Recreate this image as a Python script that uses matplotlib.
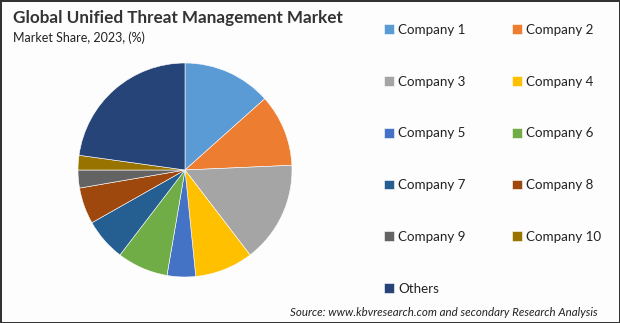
import numpy as np
import matplotlib.pyplot as plt

plt.rcParams['font.family'] = ['Lato', 'DejaVu Sans']

labels = ["Company 1", "Company 2", "Company 3", "Company 4", "Company 5",
          "Company 6", "Company 7", "Company 8", "Company 9", "Company 10", "Others"]
shares = [13.4, 10.9, 15.3, 8.8, 4.3, 7.7, 6.4, 5.5, 2.7, 2.2, 22.8]
colors = ["#5B9BD5", "#ED7D31", "#A5A5A5", "#FFC000", "#4472C4", "#70AD47",
          "#255E91", "#9E480E", "#636363", "#997300", "#264478"]

fig = plt.figure(figsize=(6.2, 3.23), dpi=100)
fig.patch.set_facecolor("#fdfdfd")
fig.patch.set_edgecolor("#333333")
fig.patch.set_linewidth(2)

ax = fig.add_axes([78/620, 46/323, 214/620, 214/323])
wedges, _ = ax.pie(shares, colors=colors, startangle=90, counterclock=False,
                   radius=1, wedgeprops=dict(linewidth=0.4, edgecolor="white"))
ax.set_xlim(-1, 1)
ax.set_ylim(-1, 1)
ax.set_aspect("equal")

fig.text(13/620, 1 - 18/323, "Global Unified Threat Management Market",
         fontsize=12.3, fontweight="bold", color="#333333", va="center", ha="left")
fig.text(13/620, 1 - 38/323, "Market Share, 2023, (%)",
         fontsize=9, color="#222222", va="center", ha="left")
fig.text(598/620, 1 - 312/323,
         "Source: www.kbvresearch.com and secondary Research Analysis",
         fontsize=8.3, style="italic", color="#222222", va="center", ha="right")

order = [0, 2, 4, 6, 8, 10, 1, 3, 5, 7, 9]
leg = fig.legend([wedges[i] for i in order], [labels[i] for i in order],
                 ncol=2, loc="upper left", bbox_to_anchor=(372/620, 1 - 12/323),
                 frameon=False, fontsize=9.6, handlelength=0.75, handleheight=0.75,
                 handletextpad=0.3, labelspacing=2.98, columnspacing=3.45)
for t in leg.get_texts():
    t.set_color("#222222")

fig.savefig("out.png", dpi=100, facecolor=fig.get_facecolor(), edgecolor=fig.get_edgecolor())
